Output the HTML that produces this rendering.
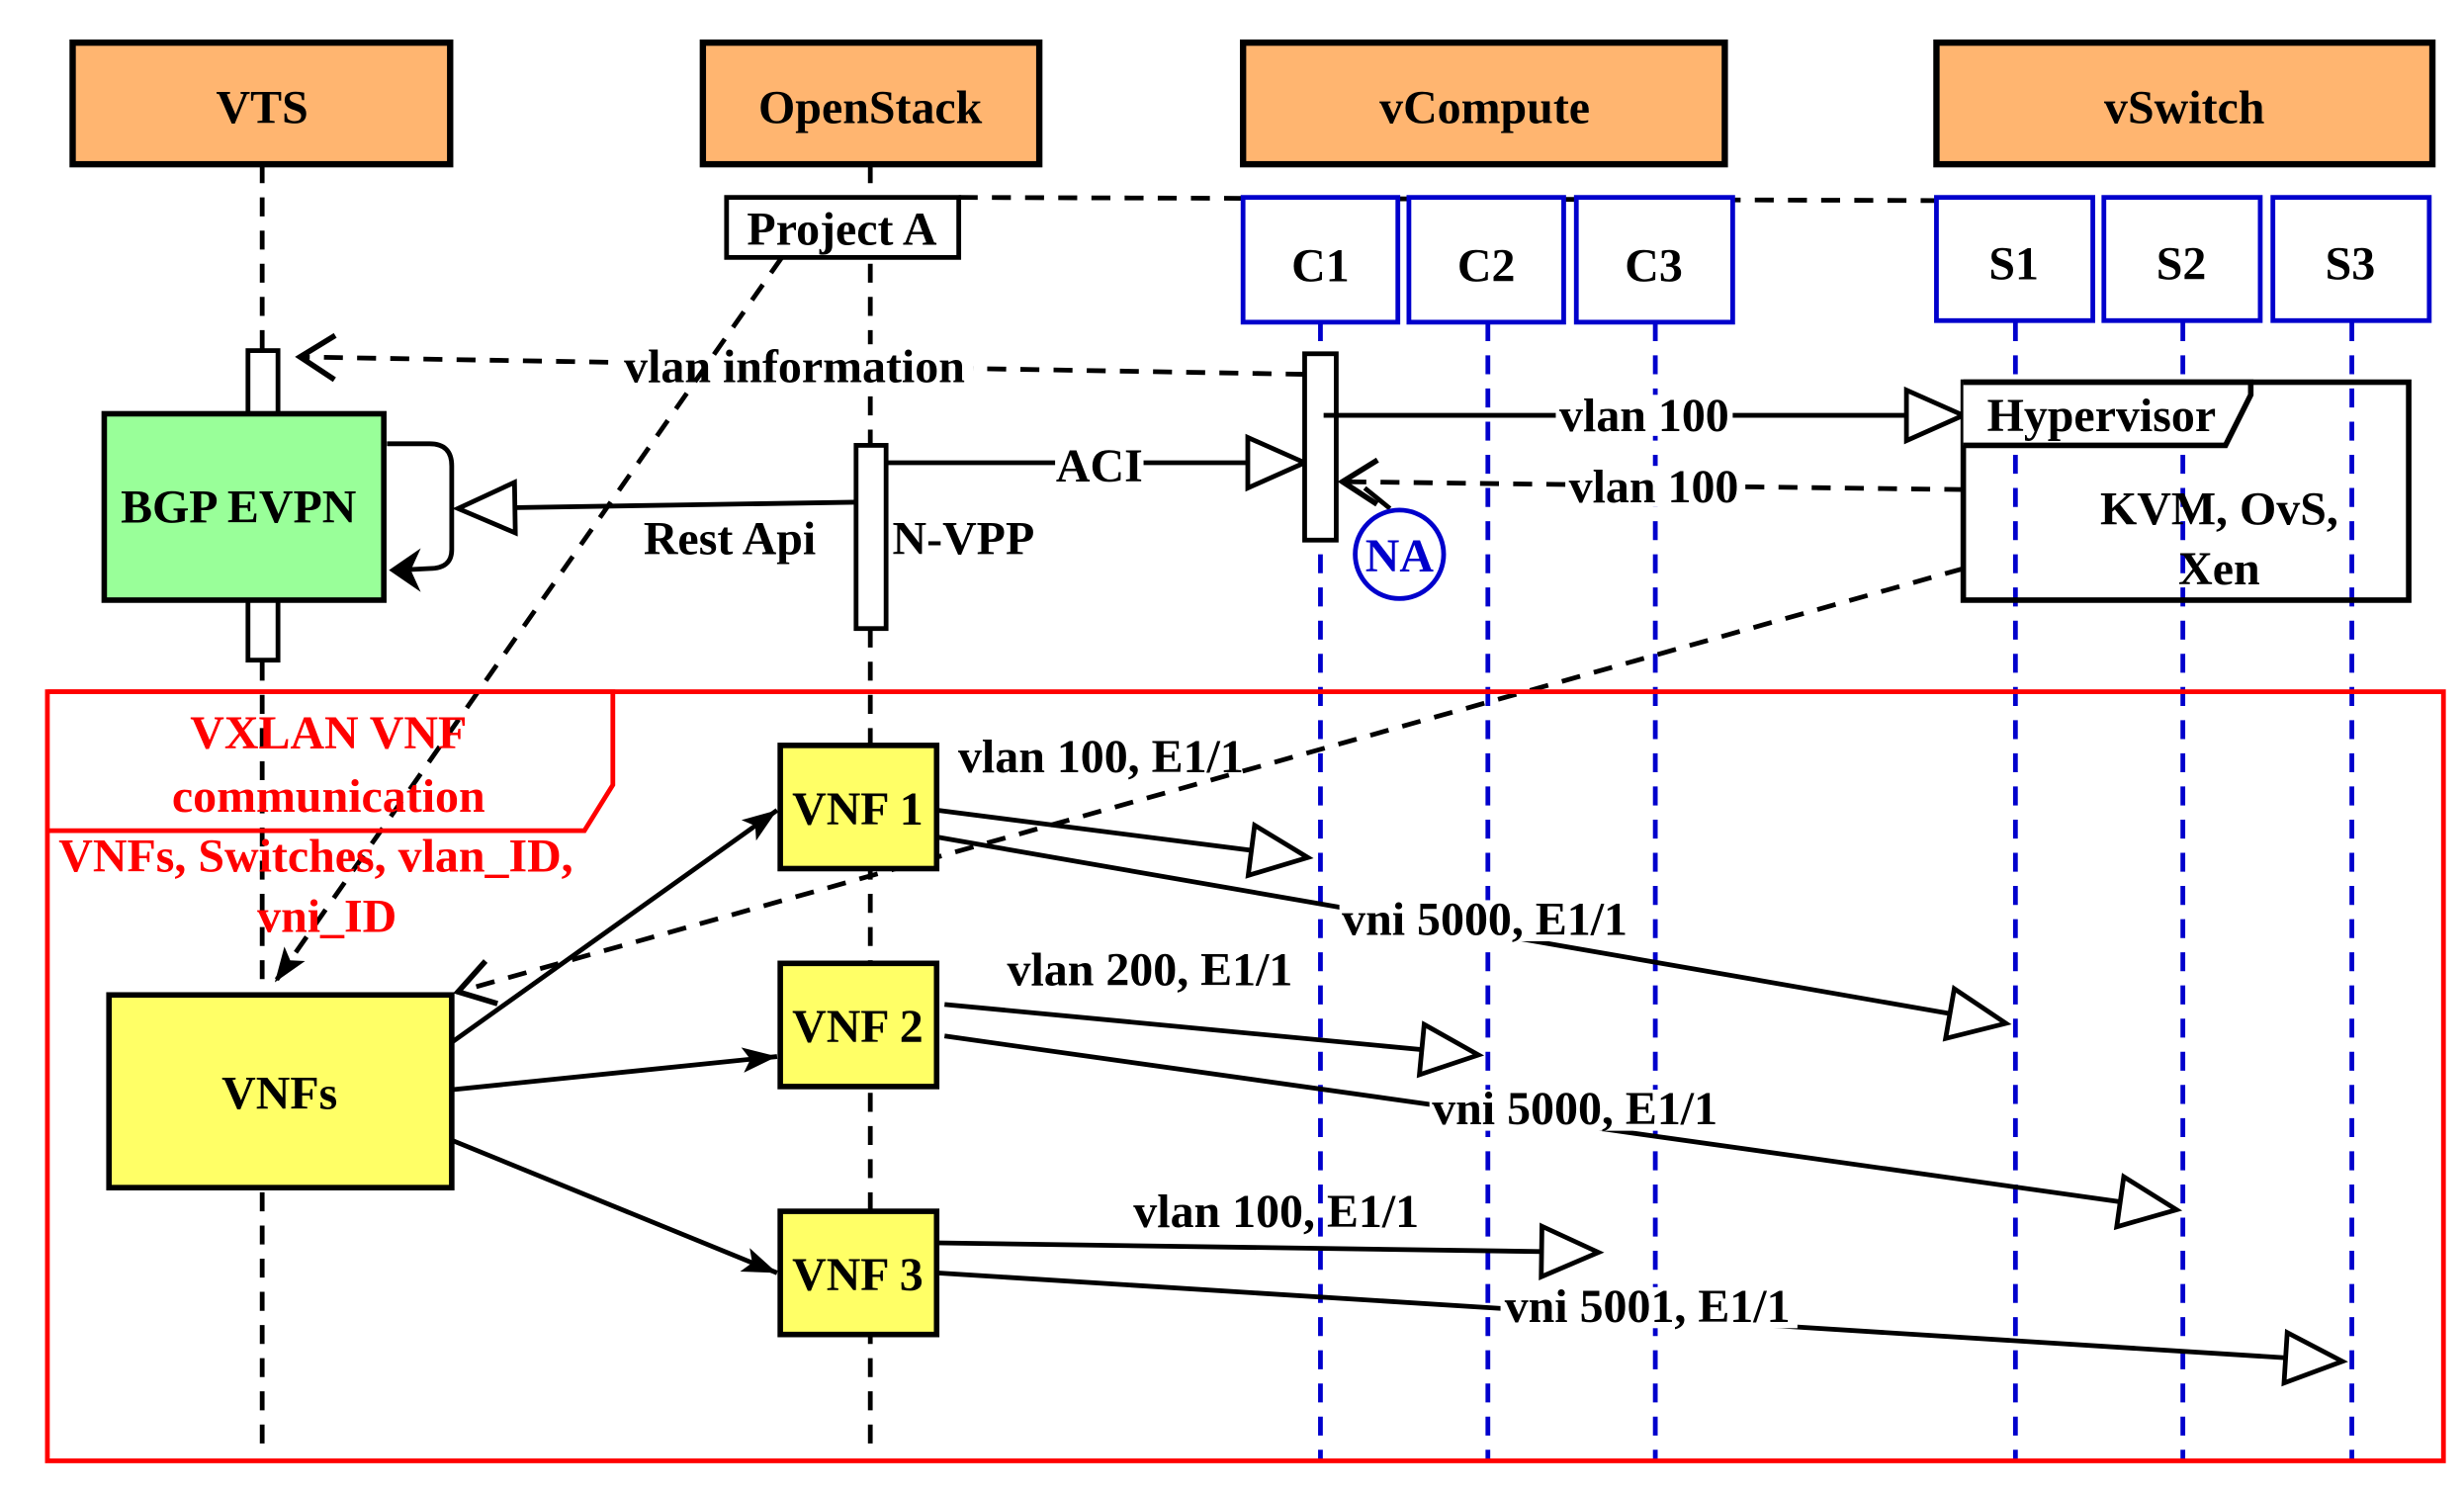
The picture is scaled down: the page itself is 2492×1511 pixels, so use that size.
<!DOCTYPE html>
<html><head><meta charset="utf-8"><style>
html,body{margin:0;padding:0;background:#fff;}
svg{display:block;}
text{font-family:"Liberation Serif",serif;font-weight:bold;font-size:30px;}
</style></head><body>
<svg width="2492" height="1511" viewBox="0 0 1560 946" preserveAspectRatio="none" xmlns="http://www.w3.org/2000/svg">
<defs>
<marker id="tri" markerUnits="userSpaceOnUse" markerWidth="44" markerHeight="40" viewBox="-2 -20 44 40" refX="38" refY="0" orient="auto">
<path d="M2,-16 L38,0 L2,16 Z" fill="#fff" stroke="#000" stroke-width="3"/></marker>
<marker id="open" markerUnits="userSpaceOnUse" markerWidth="30" markerHeight="36" viewBox="-26 -18 30 36" refX="0" refY="0" orient="auto">
<path d="M-22,-14 L0,0 L-22,14" fill="none" stroke="#000" stroke-width="3.5"/></marker>
<marker id="fill" markerUnits="userSpaceOnUse" markerWidth="24" markerHeight="20" viewBox="0 -10 24 20" refX="22" refY="0" orient="auto">
<path d="M0,-8 L22,0 L0,8 L5,0 Z" fill="#000"/></marker>
</defs>

<g stroke="#000" stroke-width="3" stroke-dasharray="12,9">
<line x1="166" y1="104" x2="166" y2="920"/>
<line x1="551" y1="104" x2="551" y2="920"/>
</g>
<g stroke="#0000CC" stroke-width="3" stroke-dasharray="12,9">
<line x1="836" y1="204" x2="836" y2="925"/>
<line x1="942" y1="204" x2="942" y2="925"/>
<line x1="1048" y1="204" x2="1048" y2="925"/>
<line x1="1276" y1="204" x2="1276" y2="925"/>
<line x1="1382" y1="204" x2="1382" y2="925"/>
<line x1="1489" y1="204" x2="1489" y2="925"/>
</g>

<g fill="#FFB570" stroke="#000" stroke-width="4">
<rect x="46" y="27" width="239" height="77"/>
<rect x="445" y="27" width="213" height="77"/>
<rect x="787" y="27" width="305" height="77"/>
<rect x="1226" y="27" width="314" height="77"/>
</g>
<g text-anchor="middle">
<text x="166" y="78">VTS</text>
<text x="551" y="78">OpenStack</text>
<text x="940" y="78">vCompute</text>
<text x="1383" y="78">vSwitch</text>
</g>

<line x1="607" y1="125" x2="1226" y2="127" stroke="#000" stroke-width="3" stroke-dasharray="12,9"/>
<rect x="460" y="125" width="147" height="38" fill="#fff" stroke="#000" stroke-width="3"/>
<text x="533" y="155" text-anchor="middle" font-size="28">Project A</text>

<g fill="#fff" stroke="#0000CC" stroke-width="3">
<rect x="787" y="125" width="98" height="79"/>
<rect x="892" y="125" width="98" height="79"/>
<rect x="998" y="125" width="99" height="79"/>
<rect x="1226" y="125" width="99" height="78"/>
<rect x="1332" y="125" width="99" height="78"/>
<rect x="1439" y="125" width="99" height="78"/>
</g>
<g text-anchor="middle" font-size="28">
<text x="836" y="178">C1</text><text x="941" y="178">C2</text><text x="1047" y="178">C3</text>
<text x="1275" y="177">S1</text><text x="1381" y="177">S2</text><text x="1488" y="177">S3</text>
</g>

<g fill="#fff" stroke="#000" stroke-width="3">
<rect x="157" y="222" width="19" height="40"/>
<rect x="157" y="380" width="19" height="38"/>
</g>
<rect x="66" y="262" width="177" height="118" fill="#99FF99" stroke="#000" stroke-width="3.5"/>
<text x="151" y="331" text-anchor="middle">BGP EVPN</text>
<path d="M245,281 L272,281 Q286,281 286,295 L286,348 Q286,360 272,360 L252,361" fill="none" stroke="#000" stroke-width="3"/>
<path d="M264,350 L248,361 L264,372 L259,361 Z" fill="#000" stroke="#000" stroke-width="2"/>

<line x1="826" y1="237" x2="190" y2="226" stroke="#000" stroke-width="3" stroke-dasharray="12,9" marker-end="url(#open)"/>
<rect x="392" y="218" width="224" height="28" fill="#fff"/>
<text x="503" y="242" text-anchor="middle" font-size="29">vlan information</text>

<line x1="495" y1="163" x2="174" y2="622" stroke="#000" stroke-width="3" stroke-dasharray="12,9" marker-end="url(#fill)"/>

<line x1="541" y1="318" x2="290" y2="322" stroke="#000" stroke-width="3" marker-end="url(#tri)"/>
<rect x="542" y="282" width="19" height="116" fill="#fff" stroke="#000" stroke-width="3"/>
<text x="462" y="351" text-anchor="middle">Rest Api</text>
<text x="565" y="351">N-VPP</text>
<line x1="561" y1="293" x2="826" y2="293" stroke="#000" stroke-width="3" marker-end="url(#tri)"/>
<rect x="668" y="280" width="56" height="28" fill="#fff"/>
<text x="696" y="305" text-anchor="middle">ACI</text>

<rect x="826" y="224" width="20" height="118" fill="#fff" stroke="#000" stroke-width="3"/>
<line x1="838" y1="263" x2="1243" y2="263" stroke="#000" stroke-width="3" marker-end="url(#tri)"/>
<rect x="985" y="250" width="112" height="26" fill="#fff"/>
<text x="1041" y="273" text-anchor="middle">vlan 100</text>
<line x1="1243" y1="310" x2="850" y2="305" stroke="#000" stroke-width="3" stroke-dasharray="12,9" marker-end="url(#open)"/>
<line x1="864" y1="309" x2="880" y2="322" stroke="#000" stroke-width="3"/>
<rect x="992" y="295" width="112" height="26" fill="#fff"/>
<text x="1047" y="318" text-anchor="middle">vlan 100</text>
<circle cx="886" cy="351" r="28" fill="#fff" stroke="#0000CC" stroke-width="3"/>
<text x="886" y="362" text-anchor="middle" fill="#0000CC" font-size="28">NA</text>

<rect x="1243" y="242" width="282" height="138" fill="none" stroke="#000" stroke-width="3.5"/>
<path d="M1243,242 L1425,242 L1425,250 L1409,282 L1243,282" fill="#fff" stroke="#000" stroke-width="3.5"/>
<text x="1258" y="273" font-size="29">Hypervisor</text>
<text x="1405" y="332" text-anchor="middle" font-size="29">KVM, OvS,</text>
<text x="1405" y="370" text-anchor="middle" font-size="29">Xen</text>
<line x1="1243" y1="360" x2="290" y2="628" stroke="#000" stroke-width="3" stroke-dasharray="12,9" marker-end="url(#open)"/>

<rect x="30" y="438" width="1517" height="487" fill="none" stroke="#FF0000" stroke-width="3"/>
<path d="M30,438 L388,438 L388,497 L370,526 L30,526" fill="none" stroke="#FF0000" stroke-width="3"/>
<g fill="#FF0000" text-anchor="middle" font-size="28">
<text x="208" y="474">VXLAN VNF</text>
<text x="208" y="514">communication</text>
<text x="200" y="552">VNFs, Switches, vlan_ID,</text>
<text x="207" y="590">vni_ID</text>
</g>

<g fill="#FFFF66" stroke="#000" stroke-width="3.5">
<rect x="69" y="630" width="217" height="122"/>
<rect x="494" y="472" width="99" height="78"/>
<rect x="494" y="610" width="99" height="78"/>
<rect x="494" y="767" width="99" height="78"/>
</g>
<g text-anchor="middle" font-size="28">
<text x="177" y="702">VNFs</text>
<text x="543" y="522">VNF 1</text>
<text x="543" y="660">VNF 2</text>
<text x="543" y="817">VNF 3</text>
</g>
<g stroke="#000" stroke-width="3">
<line x1="286" y1="660" x2="492" y2="513" marker-end="url(#fill)"/>
<line x1="286" y1="690" x2="492" y2="669" marker-end="url(#fill)"/>
<line x1="286" y1="722" x2="492" y2="806" marker-end="url(#fill)"/>
<line x1="593" y1="513" x2="828" y2="543" marker-end="url(#tri)"/>
<line x1="593" y1="530" x2="1270" y2="648" marker-end="url(#tri)"/>
<line x1="598" y1="636" x2="936" y2="668" marker-end="url(#tri)"/>
<line x1="598" y1="656" x2="1378" y2="766" marker-end="url(#tri)"/>
<line x1="593" y1="787" x2="1012" y2="793" marker-end="url(#tri)"/>
<line x1="593" y1="806" x2="1483" y2="862" marker-end="url(#tri)"/>
</g>
<g fill="#fff">
<rect x="848" y="570" width="186" height="26"/>
<rect x="905" y="690" width="186" height="26"/>
<rect x="950" y="815" width="188" height="26"/>
</g>
<g font-size="28" text-anchor="middle">
<text x="697" y="489">vlan 100, E1/1</text>
<text x="940" y="592">vni 5000, E1/1</text>
<text x="728" y="624">vlan 200, E1/1</text>
<text x="997" y="712">vni 5000, E1/1</text>
<text x="808" y="777">vlan 100, E1/1</text>
<text x="1043" y="837">vni 5001, E1/1</text>
</g>
</svg>
</body></html>
